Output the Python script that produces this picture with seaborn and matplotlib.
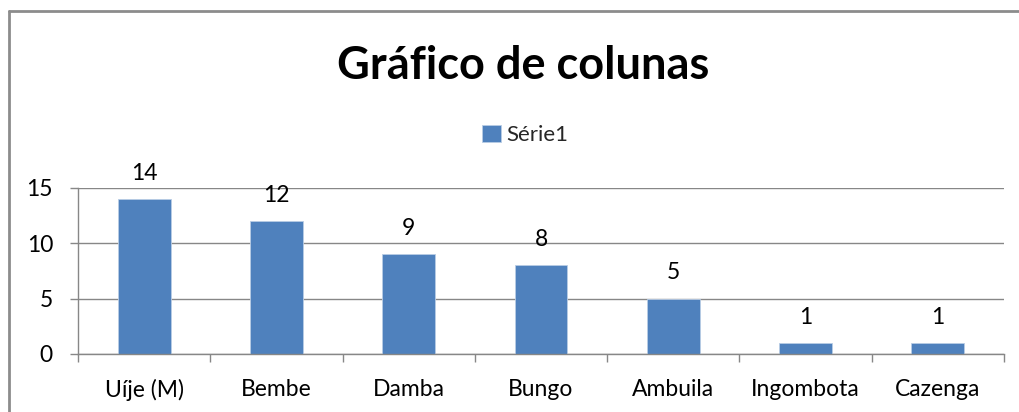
import matplotlib
matplotlib.use("Agg")
import matplotlib.pyplot as plt
import seaborn as sns
import pandas as pd
from matplotlib.lines import Line2D
from matplotlib.ticker import FixedLocator

categories = ["Uíje (M)", "Bembe", "Damba", "Bungo", "Ambuila", "Ingombota", "Cazenga"]
values = [14, 12, 9, 8, 5, 1, 1]
series_name = "Série1"
title = "Gráfico de colunas"
yticks = [0, 5, 10, 15]

sns.set_theme(style="white")
plt.rcParams["font.family"] = ["Lato", "DejaVu Sans"]

BLUE = "#4F81BD"
GRID = "#878787"

fig = plt.figure(figsize=(10.2, 4.12), dpi=100)
fig.patch.set_facecolor("white")
ax = fig.add_axes([78 / 1020, 1 - 354 / 412, (1004 - 78) / 1020, (354 - 188) / 412])

df = pd.DataFrame({"cat": categories, "val": values})
sns.barplot(data=df, x="cat", y="val", color=BLUE, width=0.4, saturation=1,
            edgecolor="#B9CDE5", linewidth=0.6, ax=ax, label=series_name)

ax.set_xlim(-0.5, len(categories) - 0.5)
ax.set_ylim(0, 15)
ax.set_yticks(yticks)
ax.yaxis.grid(True, color=GRID, linewidth=1.0)
ax.set_axisbelow(True)
ax.set_xlabel("")
ax.set_ylabel("")

for s in ["top", "right"]:
    ax.spines[s].set_visible(False)
for s in ["left", "bottom"]:
    ax.spines[s].set_color(GRID)
    ax.spines[s].set_linewidth(1.0)

ax.tick_params(axis="y", which="major", length=6, width=1.0, color=GRID,
               labelsize=16.5, labelcolor="#000000", pad=12, left=True)
ax.tick_params(axis="x", which="major", length=0, labelsize=16.5, labelcolor="#000000", pad=18)
ax.xaxis.set_minor_locator(FixedLocator([i - 0.5 for i in range(len(categories) + 1)]))
ax.tick_params(axis="x", which="minor", length=6, width=1.0, color=GRID, bottom=True)

for i, v in enumerate(values):
    ax.annotate(str(v), (i, v), xytext=(0, 11), textcoords="offset points",
                ha="center", va="bottom", fontsize=16.5, color="#000000")

fig.text(523 / 1020, 1 - 66 / 412, title, ha="center", va="center",
         fontsize=32.5, fontweight="bold", color="#000000")

leg = ax.legend(loc="center", bbox_to_anchor=(525 / 1020, 1 - 135 / 412),
                bbox_transform=fig.transFigure, frameon=False, fontsize=16,
                handlelength=0.85, handleheight=0.85, handletextpad=0.25)

BORDER = "#8C8C8C"
fig.lines.append(Line2D([9.5 / 1020, 1.05], [1 - 11 / 412, 1 - 11 / 412],
                        transform=fig.transFigure, color=BORDER, linewidth=2.0))
fig.lines.append(Line2D([9.5 / 1020, 9.5 / 1020], [-0.05, 1 - 11 / 412],
                        transform=fig.transFigure, color=BORDER, linewidth=2.0))

fig.savefig("out.png", dpi=100, facecolor="white")
